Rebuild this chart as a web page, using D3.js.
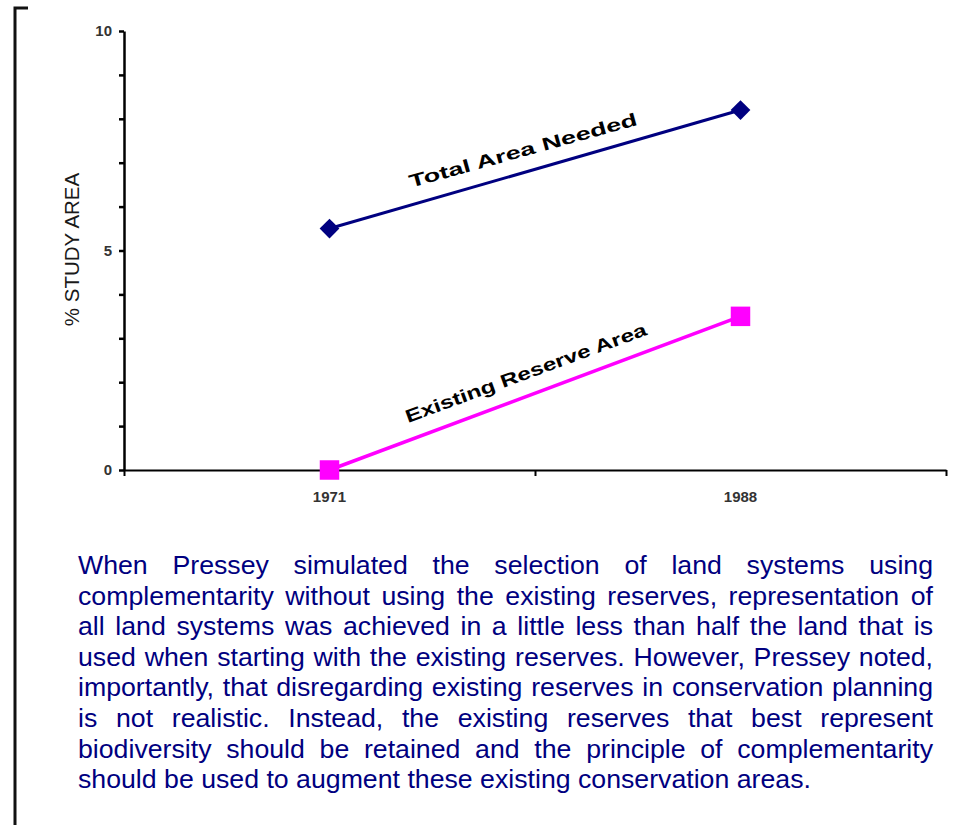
<!DOCTYPE html>
<html>
<head>
<meta charset="utf-8">
<script src="https://cdn.jsdelivr.net/npm/d3@7"></script>
<style>
    body { margin: 0; background: #fff; }
    #wrap { position: relative; width: 953px; height: 825px; overflow: hidden; }
    #chart { position: absolute; left: 0; top: 0; }
    .note {
        position: absolute;
        left: 78px;
        top: 550px;
        width: 855px;
        font-family: "Liberation Sans", Arial, sans-serif;
        font-size: 26.7px;
        line-height: 30.6px;
        color: #000080;
    }
    .note div { white-space: nowrap; text-align: justify; text-align-last: justify; }
    .note div.last { text-align-last: left; }
    .axis text { font-family: "Liberation Sans", Arial, sans-serif; font-size: 15px; font-weight: bold; fill: #333; }
    .axis path, .axis line { stroke: #000; }
</style>
</head>
<body>
<div id="wrap">
    <svg id="chart" width="953" height="825"></svg>
    <div class="note" id="note"></div>
</div>
<script>
// chart values
const years = ["1971", "1988"];
const totalArea = [5.5, 8.2];
const reserveArea = [0, 3.5];
const seriesNames = ["Total Area Needed", "Existing Reserve Area"];
const yTicks = [0, 1, 2, 3, 4, 5, 6, 7, 8, 9, 10];
const yLabels = [0, 5, 10];
const yTitle = "% STUDY AREA";

const noteLines = [
    "When Pressey simulated the selection of land systems using",
    "complementarity without using the existing reserves, representation of",
    "all land systems was achieved in a little less than half the land that is",
    "used when starting with the existing reserves. However, Pressey noted,",
    "importantly, that disregarding existing reserves in conservation planning",
    "is not realistic. Instead, the existing reserves that best represent",
    "biodiversity should be retained and the principle of complementarity",
    "should be used to augment these existing conservation areas."
];

const margin = { top: 31, left: 124, right: 7, bottom: 355 };
const width = 953, height = 825;

const svg = d3.select("#chart");

// frame line on the left
svg.append("path")
    .attr("d", "M28,8 H15 V825")
    .attr("fill", "none")
    .attr("stroke", "#111")
    .attr("stroke-width", 3);

const x = d3.scaleBand()
    .domain(years)
    .range([margin.left, width - margin.right]);

// category boundaries for the tick marks
const xEdge = d3.scaleLinear()
    .domain([0, years.length])
    .range([margin.left, width - margin.right]);

const y = d3.scaleLinear()
    .domain([0, 10])
    .range([height - margin.bottom, margin.top]);

const cx = d => x(d) + x.bandwidth() / 2;

// x axis line + ticks at band edges
const xEdgeAxis = svg.append("g")
    .attr("class", "axis")
    .attr("transform", `translate(0, ${y(0)})`)
    .call(d3.axisBottom(xEdge).tickValues(d3.range(0, years.length + 1)).tickSize(6).tickSizeOuter(0).tickFormat(""));
xEdgeAxis.select(".domain").attr("stroke-width", 2.2);
xEdgeAxis.selectAll(".tick line").attr("stroke-width", 2);

// x labels centred on each year
const xAxis = svg.append("g")
    .attr("class", "axis")
    .attr("transform", `translate(0, ${y(0)})`)
    .call(d3.axisBottom(x).tickSize(0).tickPadding(21));
xAxis.select(".domain").remove();

// y axis
const yAxis = svg.append("g")
    .attr("class", "axis")
    .attr("transform", `translate(${margin.left}, 0)`)
    .call(d3.axisLeft(y)
        .tickValues(yTicks)
        .tickSize(5)
        .tickSizeOuter(0)
        .tickPadding(7)
        .tickFormat(d => yLabels.includes(d) ? d : ""));
yAxis.select(".domain").attr("stroke-width", 2.5);
yAxis.selectAll(".tick line").attr("stroke-width", 2.5);

// y title
svg.append("text")
    .attr("transform", `translate(79, ${(y(0) + y(10)) / 2 - 1}) rotate(-90)`)
    .attr("text-anchor", "middle")
    .style("font-family", "'Liberation Sans', Arial, sans-serif")
    .style("font-size", "20.5px")
    .attr("fill", "#1a1a1a")
    .text(yTitle);

const line = d3.line()
    .x((d, i) => cx(years[i]))
    .y(d => y(d));

// total area needed
svg.append("path")
    .datum(totalArea)
    .attr("d", line)
    .attr("fill", "none")
    .attr("stroke", "#000080")
    .attr("stroke-width", 3);

svg.selectAll(".diamond")
    .data(totalArea)
    .join("path")
    .attr("class", "diamond")
    .attr("d", d3.symbol(d3.symbolSquare, 195))
    .attr("transform", (d, i) => `translate(${cx(years[i])}, ${y(d)}) rotate(45)`)
    .attr("fill", "#000080");

// existing reserve area
svg.append("path")
    .datum(reserveArea)
    .attr("d", line)
    .attr("fill", "none")
    .attr("stroke", "#ff00ff")
    .attr("stroke-width", 3.5);

svg.selectAll(".square")
    .data(reserveArea)
    .join("path")
    .attr("class", "square")
    .attr("d", d3.symbol(d3.symbolSquare, 380))
    .attr("transform", (d, i) => `translate(${cx(years[i])}, ${y(d)})`)
    .attr("fill", "#ff00ff");

// labels written along the lines, stretched sideways like the original
function lineLabel(values, name, t, lift, len, angleFix) {
    const x0 = cx(years[0]), x1 = cx(years[1]);
    const y0 = y(values[0]), y1 = y(values[1]);
    const px = x0 + (x1 - x0) * t;
    const py = y0 + (y1 - y0) * t - lift;
    const angle = Math.atan2(y1 - y0, x1 - x0) * 180 / Math.PI + angleFix;
    const txt = svg.append("text")
        .attr("text-anchor", "middle")
        .style("font-family", "'Liberation Sans', Arial, sans-serif")
        .style("font-size", "18px")
        .style("font-weight", "bold")
        .attr("fill", "#000")
        .text(name);
    const sx = len / txt.node().getComputedTextLength();
    txt.attr("transform", `translate(${px}, ${py}) rotate(${angle}) scale(${sx}, 1)`);
}
lineLabel(totalArea, seriesNames[0], 0.475, 16, 236, 0.6);
lineLabel(reserveArea, seriesNames[1], 0.483, 17, 256, 0.3);

// paragraph under the chart
d3.select("#note").selectAll("div")
    .data(noteLines)
    .join("div")
    .classed("last", (d, i) => i === noteLines.length - 1)
    .text(d => d);
</script>
</body>
</html>
